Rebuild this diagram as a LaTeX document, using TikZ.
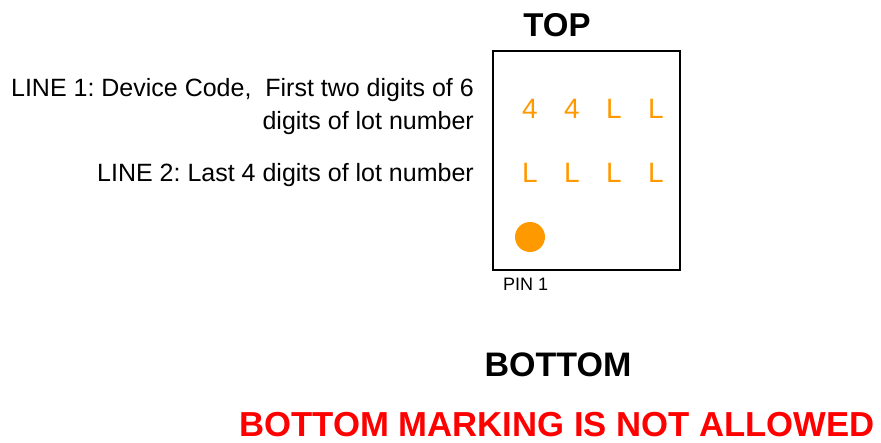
\documentclass[tikz,border=0pt]{standalone}
\usepackage{fontspec}
\setmainfont{Liberation Sans}
\frenchspacing
\definecolor{markorange}{RGB}{255,153,0}
\tikzset{
    mark char/.style={text=markorange, font=\fontsize{28}{32}\selectfont, inner sep=0pt},
    side note/.style={anchor=base east, font=\fontsize{25}{33}\selectfont, inner sep=0pt},
    head/.style={anchor=base, font=\fontsize{33}{36}\selectfont\bfseries, inner sep=0pt},
}
\begin{document}
\begin{tikzpicture}[x=1pt,y=-1pt]
    \useasboundingbox (0,0) rectangle (881,443);
    \node[head] (top) at (557,37) {TOP};
    \draw[line width=1.2pt] (493,51) rectangle (680,270);

    \node[mark char] (c11) at (530,109) {4};
    \node[mark char] (c12) at (572,109) {4};
    \node[mark char] (c13) at (614,109) {L};
    \node[mark char] (c14) at (656,109) {L};
    \node[mark char] (c21) at (530,173) {L};
    \node[mark char] (c22) at (572,173) {L};
    \node[mark char] (c23) at (614,173) {L};
    \node[mark char] (c24) at (656,173) {L};
    \fill[markorange] (530,237) circle (15pt);
    \node[anchor=base west, font=\fontsize{18}{20}\selectfont, inner sep=0pt] (pin) at (503,291) {PIN 1};

    \node[side note, align=right] (line1) at (474,130) {LINE 1: Device Code,\ \ First two digits of 6\\digits of lot number};
    \node[side note] (line2) at (474,182) {LINE 2: Last 4 digits of lot number};

    \node[head, font=\fontsize{34}{36}\selectfont\bfseries] (bottom) at (558,377) {BOTTOM};
    \node[head, text=red, font=\fontsize{34.7}{36}\selectfont\bfseries] (warn) at (557,437) {BOTTOM MARKING IS NOT ALLOWED};
\end{tikzpicture}
\end{document}
